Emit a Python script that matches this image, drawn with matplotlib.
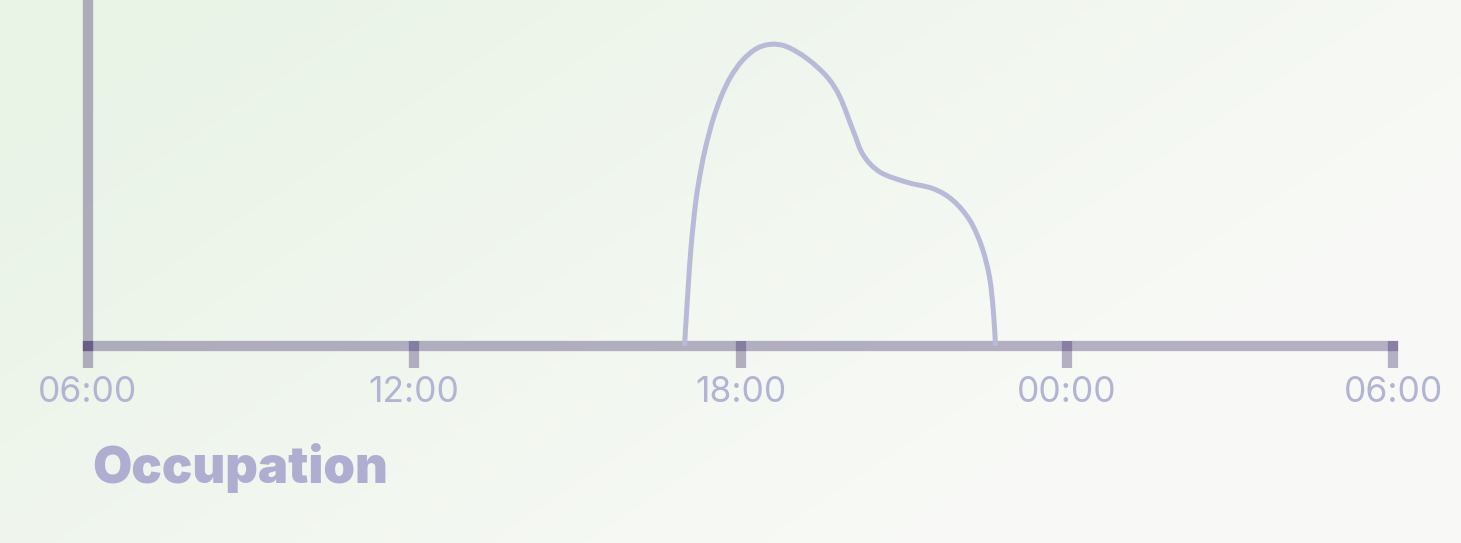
import matplotlib.pyplot as plt
import matplotlib.transforms as mtransforms
from matplotlib.path import Path
from matplotlib.patches import PathPatch
import numpy as np

# occupancy curve, hours after 06:00 vs relative level (0-100)
hours = [10.97, 11.03, 11.09, 11.18, 11.27, 11.36, 11.49, 11.64, 11.82, 12.04,
         12.30, 12.57, 12.85, 13.22, 13.59, 13.83, 14.07, 14.26, 14.57, 15.06,
         15.55, 15.91, 16.22, 16.44, 16.58, 16.65, 16.69]
occupancy = [0, 15.0, 28.5, 42.0, 50.7, 57.5, 65.2, 71.9, 77.8, 82.6,
             86.0, 87.2, 86.5, 83.1, 77.8, 71.9, 62.3, 55.1, 50.2, 47.3,
             45.4, 42.0, 36.2, 28.5, 19.8, 10.1, 0]

tick_pos = [0, 6, 12, 18, 24]
tick_labels = ['06:00', '12:00', '18:00', '00:00', '06:00']

axis_col = (0.22, 0.15, 0.40, 0.35)
curve_col = '#b9bad7'
text_col = '#b3b3d3'

fig = plt.figure(figsize=(14.61, 5.43), dpi=100)

# soft green background
bg = fig.add_axes([0, 0, 1, 1], zorder=-5)
yy, xx = np.mgrid[0:1:200j, 0:1:500j]
w = np.clip(1.1 - 0.9 * xx - 0.5 * yy, 0, 1)
green = np.array([0.914, 0.953, 0.902])
white = np.array([0.976, 0.980, 0.969])
img = white * (1 - w[..., None]) + green * w[..., None]
bg.imshow(img, aspect='auto', extent=[0, 1, 0, 1], origin='upper')
bg.axis('off')

ax = fig.add_axes([88 / 1461, 1 - 345.8 / 543, (1393 - 88) / 1461, 345.8 / 543])
ax.patch.set_alpha(0)

# smooth line through the points (catmull-rom as bezier segments)
pts = np.column_stack([hours, occupancy])
ext = np.vstack([pts[0], pts, pts[-1]])
verts = [pts[0]]
codes = [Path.MOVETO]
for i in range(1, len(ext) - 2):
    p0, p1, p2, p3 = ext[i - 1], ext[i], ext[i + 1], ext[i + 2]
    verts += [p1 + (p2 - p0) / 6, p2 - (p3 - p1) / 6, p2]
    codes += [Path.CURVE4] * 3
ax.add_patch(PathPatch(Path(verts, codes), fill=False, edgecolor=curve_col,
                       lw=3.6, capstyle='butt', joinstyle='round', zorder=3))

ax.set_xlim(0, 24)
ax.set_ylim(0, 100)
for s in ['top', 'right']:
    ax.spines[s].set_visible(False)
for s in ['left', 'bottom']:
    ax.spines[s].set_color(axis_col)
    ax.spines[s].set_linewidth(7.4)
    ax.spines[s].set_capstyle('projecting')
ax.spines['left'].set_bounds(0, 110)

ax.set_yticks([])
ax.set_xticks(tick_pos)
ax.set_xticklabels(tick_labels, fontsize=25.5, color=text_col, family='Inter')
ax.tick_params(axis='x', length=0, pad=22)

# tick marks drawn over the spine
trans = mtransforms.blended_transform_factory(ax.transData, ax.transAxes)
ax.vlines(tick_pos, -0.065, 0.0148, transform=trans, colors=[axis_col],
          lw=7.4, clip_on=False, zorder=4)

fig.text(92 / 1461, 1 - 483 / 543, 'Occupation', fontsize=36.5, color='#afaed0',
         family='Inter', fontweight='black')

fig.savefig('out.png', dpi=100)
